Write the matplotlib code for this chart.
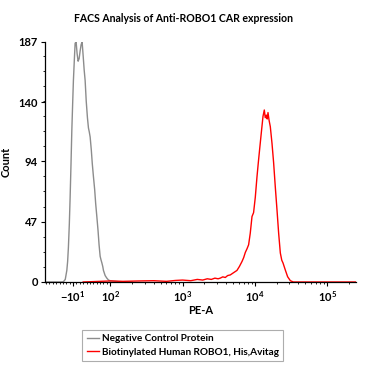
import numpy as np
import matplotlib
matplotlib.use("Agg")
import matplotlib.pyplot as plt
from matplotlib.ticker import FixedLocator, FixedFormatter

plt.rcParams['font.family'] = ['Lato', 'DejaVu Sans']
plt.rcParams['font.weight'] = 'bold'
plt.rcParams['mathtext.fontset'] = 'custom'
plt.rcParams['mathtext.rm'] = 'Lato:bold'
plt.rcParams['mathtext.bf'] = 'Lato:bold'

# Negative Control Protein histogram (PE-A value, count)
gray_x = [-93, -60, -45, -38.5, -33, -28.4, -26, -23.7, -21, -18.6, -16, -13.6, -11, -8.9,
          -6, -3.8, -0.9, 2, 5, 8, 11, 14, 16.9, 20, 23, 25.8, 29, 32.6, 35.6, 38, 40.6,
          44, 47, 50.4, 54, 57, 60.4, 64, 67, 70.2, 73, 75.2, 78, 80, 85, 90, 95, 100, 130, 200]
gray_y = [0, 0, 0, 0.2, 2, 9, 16, 27, 45, 66, 92, 118, 140, 157,
          174, 186, 187, 178, 172, 174, 180, 185, 187, 176, 165, 157, 141, 128, 120, 117, 113,
          103, 92, 82, 72, 61, 51, 40, 29, 20, 17, 15, 12, 9, 5, 3, 1.5, 1, 0.3, 0]

# Biotinylated Human ROBO1, His,Avitag histogram (PE-A value, count)
red_x = [20, 60, 100, 150, 250, 400, 600, 800, 1000, 1300, 1600, 1900, 2200, 2500, 2800,
         3100, 3320, 3600, 3900, 4200, 4570, 5000, 5650, 6100, 6640, 7000, 7370, 7800, 8190,
         8630, 9120, 9590, 10130, 10690, 11150, 11610, 12250, 12940, 13490, 13900, 14380,
         14800, 15170, 15700, 16330, 17230, 18140, 19140, 20210, 21290, 22460, 23500, 24470,
         26330, 28330, 30890, 33970, 40000, 60000, 250000]
red_y = [0, 0.4, 0.8, 0.5, 0.8, 1, 0.5, 1.2, 1.5, 1, 2, 1.5, 2.5, 2, 3,
         2.5, 3, 4, 3.5, 5, 5.5, 7, 9, 12, 16, 19, 23, 26, 29,
         38, 51, 54, 66, 82, 93, 103, 116, 129, 134, 128, 130,
         127, 132, 126, 121, 108, 93, 74, 56, 38, 22.6, 17, 14.8,
         9.3, 4.1, 1, 0, 0, 0, 0]

major_ticks = [-10, 100, 1000, 10000, 100000]
major_labels = [r'$-10^{1}$', r'$10^{2}$', r'$10^{3}$', r'$10^{4}$', r'$10^{5}$']
y_ticks = [0, 47, 94, 140, 187]

# logicle-like axis: linear near zero, log10 above T
T = 93.0
LT = np.log10(T)


def fwd(x):
    x = np.asarray(x, dtype=float)
    hi = x > T
    with np.errstate(all='ignore'):
        return np.where(hi, np.log10(np.where(hi, x, 1.0)), LT + (x - T) / (T * np.log(10)))


def inv(u):
    u = np.asarray(u, dtype=float)
    hi = u > LT
    with np.errstate(all='ignore'):
        return np.where(hi, 10 ** np.clip(u, -10, 12), T + (u - LT) * T * np.log(10))


fig = plt.figure(figsize=(3.78, 3.78), dpi=100)
ax = fig.add_axes([0.119, 0.254, 0.823, 0.635])
ax.set_xscale('function', functions=(fwd, inv))

ax.plot(gray_x, gray_y, color='#8c8c8c', lw=1.0, label='Negative Control Protein')
ax.plot(red_x, red_y, color='#ff0000', lw=1.0, label='Biotinylated Human ROBO1, His,Avitag')

ax.set_xlim(-93, 250000)
ax.set_ylim(0, 187)

minor = [-s * 10 for s in range(2, 10)] + [s * 10 for s in range(0, 10)]
for k in (2, 3, 4, 5):
    minor += [s * 10 ** k for s in range(2, 10) if s * 10 ** k < 250000]
ax.xaxis.set_major_locator(FixedLocator(major_ticks))
ax.xaxis.set_major_formatter(FixedFormatter(major_labels))
ax.xaxis.set_minor_locator(FixedLocator(minor))
ax.yaxis.set_major_locator(FixedLocator(y_ticks))
ax.yaxis.set_minor_locator(FixedLocator([v for v in np.arange(0, 188, 11.75) if v not in y_ticks]))

ax.spines['top'].set_visible(False)
ax.spines['right'].set_visible(False)
ax.spines['left'].set_linewidth(0.9)
ax.spines['bottom'].set_linewidth(0.9)
ax.tick_params(axis='both', which='major', length=3, width=0.8, labelsize=8, pad=2)
ax.tick_params(axis='both', which='minor', length=1.5, width=0.6)
for lab in ax.get_yticklabels():
    lab.set_fontweight('bold')

ax.set_xlabel('PE-A', fontsize=8, fontweight='bold', labelpad=1)
ax.set_ylabel('Count', fontsize=8, fontweight='bold', labelpad=5)
fig.text(0.485, 0.952, 'FACS Analysis of Anti-ROBO1 CAR expression', ha='center', va='center',
         fontsize=7.6, fontweight='bold')

leg = fig.legend(loc='upper left', bbox_to_anchor=(0.217, 0.127), fontsize=7.2,
                 handlelength=1.2, handletextpad=0.3, borderpad=0.45, labelspacing=0.45,
                 frameon=True, fancybox=False, edgecolor='#999999', borderaxespad=0)
leg.get_frame().set_linewidth(0.8)
for t in leg.get_texts():
    t.set_fontweight('bold')

fig.savefig('out.png', dpi=100)
